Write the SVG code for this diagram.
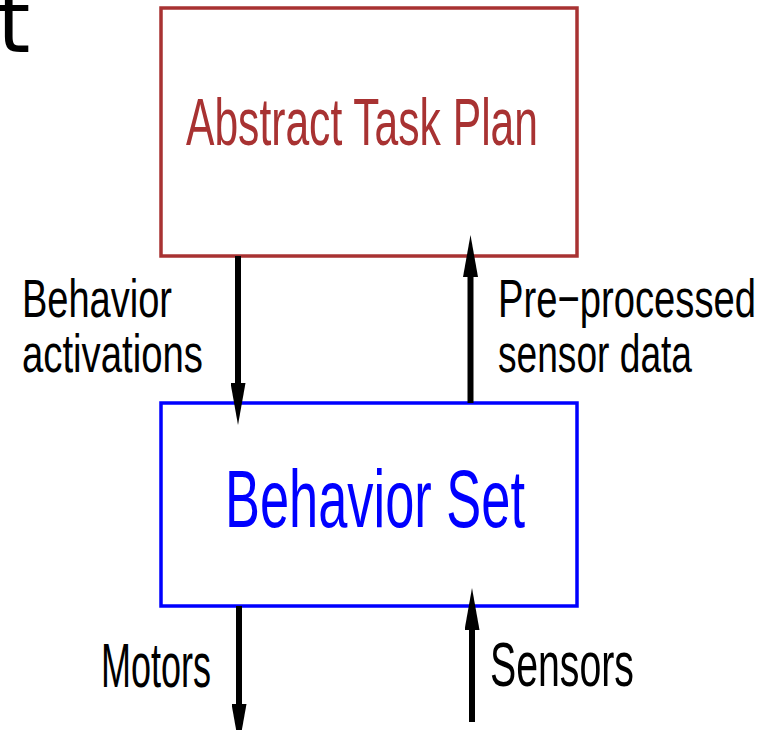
<svg xmlns="http://www.w3.org/2000/svg" width="766" height="730" viewBox="0 0 766 730">
<style>
.lbl{font-family:"Liberation Sans",Arial,sans-serif;fill:#000;}
.shaft{stroke:#000;stroke-width:6;fill:none;}
</style>
<defs>
<marker id="head" viewBox="0 0 42 15" refX="0" refY="7.5" markerWidth="42" markerHeight="15" markerUnits="userSpaceOnUse" orient="auto">
<path d="M0,0 L42,7.5 L0,15 z" fill="#000"/>
</marker>
</defs>
<rect width="766" height="730" fill="#fff"/>
<text x="-3" y="52" font-family="'DejaVu Sans',sans-serif" font-size="85" fill="#000">t</text>
<g id="abstract-task-plan">
<rect x="161" y="8" width="416" height="248" fill="none" stroke="#a83232" stroke-width="3.5"/>
<text x="186" y="145" font-family="'Liberation Sans',Arial,sans-serif" font-size="67" fill="#a83232" textLength="352" lengthAdjust="spacingAndGlyphs">Abstract Task Plan</text>
</g>
<g id="behavior-set">
<rect x="161" y="403" width="416" height="203" fill="none" stroke="#0000ff" stroke-width="3.5"/>
<text x="225" y="527" font-family="'Liberation Sans',Arial,sans-serif" font-size="82" fill="#0000ff" textLength="300" lengthAdjust="spacingAndGlyphs">Behavior Set</text>
</g>
<g id="connectors">
<line class="shaft" x1="238" y1="256" x2="238" y2="383" marker-end="url(#head)"/>
<line class="shaft" x1="470.5" y1="403" x2="470.5" y2="277" marker-end="url(#head)"/>
<line class="shaft" x1="239" y1="606" x2="239" y2="704" marker-end="url(#head)"/>
<line class="shaft" x1="472" y1="722" x2="472" y2="630" marker-end="url(#head)"/>
</g>
<g id="labels">
<text class="lbl" x="22" y="317" font-size="54" textLength="150" lengthAdjust="spacingAndGlyphs">Behavior</text>
<text class="lbl" x="22" y="372" font-size="54" textLength="181" lengthAdjust="spacingAndGlyphs">activations</text>
<text class="lbl" x="498" y="317" font-size="54" textLength="258" lengthAdjust="spacingAndGlyphs">Pre−processed</text>
<text class="lbl" x="498" y="372" font-size="54" textLength="194" lengthAdjust="spacingAndGlyphs">sensor data</text>
<text class="lbl" x="101" y="687" font-size="63" textLength="110" lengthAdjust="spacingAndGlyphs">Motors</text>
<text class="lbl" x="490" y="686" font-size="63" textLength="144" lengthAdjust="spacingAndGlyphs">Sensors</text>
</g>
</svg>
